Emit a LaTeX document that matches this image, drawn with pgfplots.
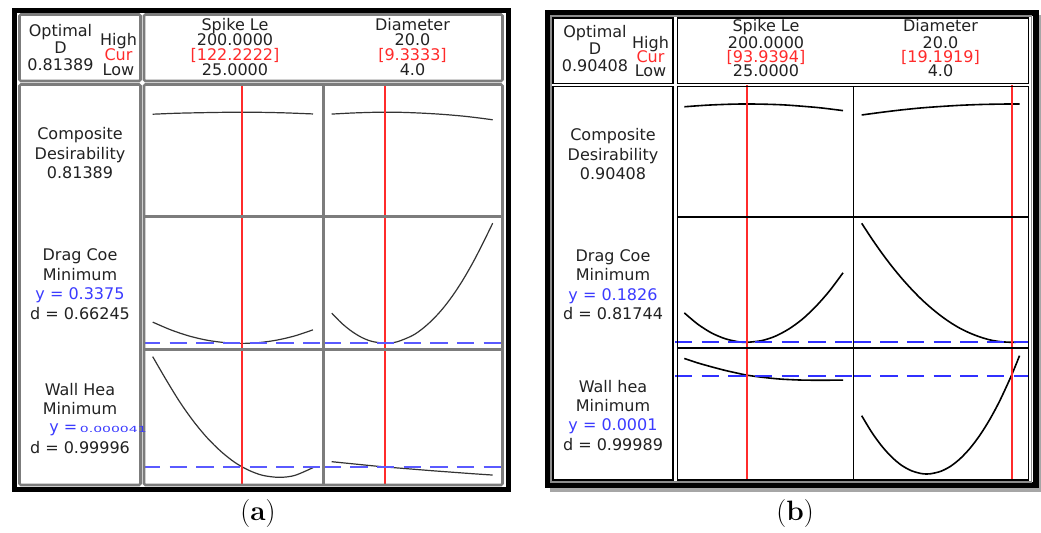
\documentclass[border=0pt]{standalone}
\usepackage{fontspec}
\setsansfont{DejaVu Sans}
\usepackage{graphicx}
\usepackage{pgfplots}
\pgfplotsset{compat=1.18}

\definecolor{curred}{HTML}{FF2B2B}
\definecolor{yblue}{HTML}{3B3BFF}
\definecolor{dashblueA}{HTML}{5A5AFF}
\definecolor{dashblueB}{HTML}{3030FF}
\definecolor{mgray}{HTML}{7C7C7C}
\definecolor{txt}{HTML}{222222}

\pgfplotsset{
  cell/.style={anchor=north west, scale only axis, hide axis, ymin=0, ymax=1, clip=true},
  respA/.style={no marks, smooth, color=black!80, line width=0.9pt},
  respB/.style={no marks, smooth, color=black, line width=1.2pt},
  curA/.style={no marks, sharp plot, solid, color=curred, line width=1.2pt},
  curB/.style={no marks, sharp plot, solid, color=curred, line width=1.4pt},
  barA/.style={ybar, bar width=1.6pt, bar shift=0pt, fill=curred, draw=none, no marks},
  barB/.style={ybar, bar width=1.5pt, bar shift=0pt, fill=curred, draw=none, no marks},
  yA/.style={no marks, color=dashblueA, line width=1.7pt, dash pattern=on 13pt off 7pt},
  yB/.style={no marks, color=dashblueB, line width=1.7pt, dash pattern=on 13pt off 7pt},
}
\tikzset{
  lab/.style={font=\sffamily\fontsize{12}{12}\selectfont, text=txt, anchor=base, inner sep=0pt},
  px/.style={x=0.75pt, y=-0.75pt},
}

\begin{document}
\begin{tikzpicture}
\begin{scope}[px]
\path[use as bounding box] (0,0) rectangle (1041,532);
\fill[white] (0,0) rectangle (1041,532);
\end{scope}

% ---------------- panel (a) ----------------
% Composite desirability
\begin{axis}[cell, at={(107.25pt,-63pt)}, width=135.375pt, height=99.375pt, xmin=14.41, xmax=211.46]
\addplot[respA] coordinates {(25,0.772) (50,0.779) (75,0.783) (100,0.786) (122.2,0.787) (145,0.786) (170,0.782) (200,0.774)};
\addplot[curA] coordinates {(122.2222,0) (122.2222,1)};
\end{axis}
\begin{axis}[cell, at={(242.625pt,-63pt)}, width=134.25pt, height=99.375pt, xmin=3.185, xmax=20.974]
\addplot[respA] coordinates {(4,0.773) (6,0.781) (8,0.786) (9.33,0.787) (11,0.786) (13,0.780) (15,0.771) (17,0.758) (18.5,0.745) (20,0.730)};
\addplot[barA] coordinates {(9.3333,1)};
\end{axis}
% Drag coefficient
\begin{axis}[cell, at={(107.25pt,-162.375pt)}, width=135.375pt, height=99.75pt, xmin=14.41, xmax=211.46]
\addplot[respA] coordinates {(25,0.206) (45,0.147) (65,0.101) (85,0.069) (105,0.051) (122.2,0.046) (140,0.051) (160,0.070) (180,0.102) (200,0.148)};
\addplot[curA] coordinates {(122.2222,0) (122.2222,1)};
\addplot[yA] coordinates {(14.41,0.047) (211.46,0.047)};
\end{axis}
\begin{axis}[cell, at={(242.625pt,-162.375pt)}, width=134.25pt, height=99.75pt, xmin=3.185, xmax=20.974]
\addplot[respA] coordinates {(4,0.274) (5,0.197) (6,0.136) (7,0.090) (8,0.061) (9.33,0.047) (10.5,0.058) (12,0.104) (13,0.155) (14,0.222) (15,0.304) (16,0.403) (17,0.518) (18,0.649) (19,0.795) (20,0.950)};
\addplot[barA] coordinates {(9.3333,1)};
\addplot[yA] coordinates {(3.185,0.047) (20.974,0.047)};
\end{axis}
% Wall heat flux
\begin{axis}[cell, at={(107.25pt,-262.125pt)}, width=135.375pt, height=101.25pt, xmin=14.41, xmax=211.46]
\addplot[respA] coordinates {(25,0.947) (40,0.772) (55,0.607) (70,0.464) (85,0.342) (100,0.242) (115,0.162) (130,0.105) (145,0.068) (163,0.053) (180,0.067) (200,0.125)};
\addplot[curA] coordinates {(122.2222,0) (122.2222,1)};
\addplot[yA] coordinates {(14.41,0.130) (211.46,0.130)};
\end{axis}
\begin{axis}[cell, at={(242.625pt,-262.125pt)}, width=134.25pt, height=101.25pt, xmin=3.185, xmax=20.974]
\addplot[respA] coordinates {(4,0.169) (6,0.154) (8,0.139) (9.33,0.130) (12,0.114) (14,0.102) (16,0.091) (18,0.080) (20,0.070)};
\addplot[barA] coordinates {(9.3333,1)};
\addplot[yA] coordinates {(3.185,0.130) (20.974,0.130)};
\end{axis}

% ---------------- panel (b) ----------------
\begin{axis}[cell, at={(506.25pt,-63.375pt)}, width=133.875pt, height=99.375pt, xmin=14.74, xmax=211.58]
\addplot[respB] coordinates {(25,0.832) (50,0.844) (75,0.851) (94,0.853) (115,0.851) (135,0.846) (155,0.836) (175,0.824) (200,0.803)};
\addplot[curB] coordinates {(93.9394,0) (93.9394,1)};
\end{axis}
\begin{axis}[cell, at={(640.125pt,-63.375pt)}, width=131.625pt, height=99.375pt, xmin=3.169, xmax=20.963]
\addplot[respB] coordinates {(4,0.770) (6,0.790) (8,0.808) (10,0.823) (12,0.834) (14,0.843) (16,0.849) (18,0.852) (19.19,0.853) (20,0.853)};
\addplot[barB] coordinates {(19.1919,1)};
\end{axis}
\begin{axis}[cell, at={(506.25pt,-162.75pt)}, width=133.875pt, height=98.25pt, xmin=14.74, xmax=211.58]
\addplot[respB] coordinates {(25,0.268) (40,0.181) (55,0.115) (70,0.071) (85,0.047) (93.94,0.0435) (110,0.056) (125,0.089) (140,0.144) (155,0.219) (170,0.317) (185,0.435) (200,0.574)};
\addplot[curB] coordinates {(93.9394,0) (93.9394,1)};
\addplot[yB] coordinates {(14.74,0.0435) (211.58,0.0435)};
\end{axis}
\begin{axis}[cell, at={(640.125pt,-162.75pt)}, width=131.625pt, height=98.25pt, xmin=3.169, xmax=20.963]
\addplot[respB] coordinates {(4,0.952) (5,0.837) (6,0.729) (7,0.629) (8,0.537) (9,0.453) (10,0.376) (11,0.308) (12,0.247) (13,0.194) (14,0.149) (15,0.113) (16,0.084) (17,0.062) (18,0.049) (19.19,0.0435) (20,0.046)};
\addplot[barB] coordinates {(19.1919,1)};
\addplot[yB] coordinates {(3.169,0.0435) (20.963,0.0435)};
\end{axis}
\begin{axis}[cell, at={(506.25pt,-261pt)}, width=133.875pt, height=99.375pt, xmin=14.74, xmax=211.58]
\addplot[respB] coordinates {(25,0.921) (40,0.887) (55,0.858) (70,0.831) (85,0.808) (93.94,0.795) (110,0.780) (130,0.766) (150,0.759) (165,0.757) (185,0.757) (200,0.758)};
\addplot[curB] coordinates {(93.9394,0) (93.9394,1)};
\addplot[yB] coordinates {(14.74,0.791) (211.58,0.791)};
\end{axis}
\begin{axis}[cell, at={(640.125pt,-261pt)}, width=131.625pt, height=99.375pt, xmin=3.169, xmax=20.963]
\addplot[respB] coordinates {(4,0.489) (5,0.366) (6,0.263) (7,0.180) (8,0.117) (9,0.075) (10,0.053) (10.6,0.049) (11,0.051) (12,0.069) (13,0.107) (14,0.166) (15,0.245) (16,0.344) (17,0.463) (18,0.602) (19.19,0.794) (20,0.942)};
\addplot[barB] coordinates {(19.1919,1)};
\addplot[yB] coordinates {(3.169,0.791) (20.963,0.791)};
\end{axis}

\begin{scope}[px]
% frames (a)
\draw[black, line width=3.75pt] (14.5,10.5) rectangle (508.5,489.5);
\begin{scope}[draw=mgray, line width=1.9pt, rounded corners=1pt]
\draw (19.5,14.5) rectangle (140.5,81);
\draw (144,14.5) rectangle (502.5,81);
\draw (19.5,84.5) rectangle (140.5,485);
\draw (144,84.5) rectangle (502.5,485);
\end{scope}
\draw[mgray, line width=1.6pt] (323.5,84.5) -- (323.5,485);
\draw[mgray, line width=1.6pt] (144,216.5) -- (502.5,216.5);
\draw[mgray, line width=1.6pt] (144,349.5) -- (502.5,349.5);

% header (a)
\node[lab] at (60.5,36) {Optimal};
\node[lab] at (60.5,53) {D};
\node[lab] at (60.5,70) {0.81389};
\node[lab] at (118.5,45.5) {High};
\node[lab, text=curred] at (118.5,60.5) {Cur};
\node[lab] at (118.5,75) {Low};
\node[lab] at (235,30.5) {Spike Le};
\node[lab] at (235,45.5) {200.0000};
\node[lab, text=curred] at (235,60.5) {[122.2222]};
\node[lab] at (235,75) {25.0000};
\node[lab] at (412.5,30.5) {Diameter};
\node[lab] at (412.5,45.5) {20.0};
\node[lab, text=curred] at (412.5,60.5) {[9.3333]};
\node[lab] at (412.5,75) {4.0};
% row labels (a)
\node[lab] at (80,139.3) {Composite};
\node[lab] at (80,159.3) {Desirability};
\node[lab] at (80,178.3) {0.81389};
\node[lab] at (80,260) {Drag Coe};
\node[lab] at (80,280) {Minimum};
\node[lab, text=yblue] at (80,299.5) {y = 0.3375};
\node[lab] at (80,319.5) {d = 0.66245};
\node[lab] at (80,395) {Wall Hea};
\node[lab] at (80,414) {Minimum};
\node[lab, text=yblue, anchor=base west] at (49,432) {y =\,\scalebox{1}[0.6]{\fontsize{10.5}{10.5}\selectfont 0.000041}};
\node[lab] at (80,453) {d = 0.99996};
\node[font=\rmfamily\fontsize{21}{21}\selectfont, anchor=base, inner sep=0pt] at (258,520) {(\textbf{a})};

% frames (b)
\fill[black!35] (550,488) rectangle (1041,491.5);
\fill[black!35] (1039,15) rectangle (1041,491.5);
\draw[black, line width=4.5pt] (547.5,12.5) rectangle (1036,485);
\draw[black!45, line width=0.8pt] (551,16) rectangle (1031.5,482);
\begin{scope}[draw=black, line width=1.3pt]
\draw (553,18) rectangle (673,83.5);
\draw (677.5,18) rectangle (1028.5,83.5);
\draw (553,86.5) rectangle (673,480);
\draw (677.5,86.5) rectangle (1028.5,480);
\draw (853.5,86.5) -- (853.5,480);
\draw (677.5,217) -- (1028.5,217);
\draw (677.5,348) -- (1028.5,348);
\end{scope}

% header (b)
\node[lab] at (595,37) {Optimal};
\node[lab] at (595,54.5) {D};
\node[lab] at (595,71.5) {0.90408};
\node[lab] at (650.5,48) {High};
\node[lab, text=curred] at (650.5,62.5) {Cur};
\node[lab] at (650.5,76.5) {Low};
\node[lab] at (766,31.5) {Spike Le};
\node[lab] at (766,48) {200.0000};
\node[lab, text=curred] at (766,62.5) {[93.9394]};
\node[lab] at (766,76.5) {25.0000};
\node[lab] at (940.5,31.5) {Diameter};
\node[lab] at (940.5,48) {20.0};
\node[lab, text=curred] at (940.5,62.5) {[19.1919]};
\node[lab] at (940.5,76.5) {4.0};
% row labels (b)
\node[lab] at (613,140) {Composite};
\node[lab] at (613,160) {Desirability};
\node[lab] at (613,179) {0.90408};
\node[lab] at (613,261) {Drag Coe};
\node[lab] at (613,280.5) {Minimum};
\node[lab, text=yblue] at (613,300) {y = 0.1826};
\node[lab] at (613,319.5) {d = 0.81744};
\node[lab] at (613,392) {Wall hea};
\node[lab] at (613,411.5) {Minimum};
\node[lab, text=yblue] at (613,430.5) {y = 0.0001};
\node[lab] at (613,450) {d = 0.99989};
\node[font=\rmfamily\fontsize{21}{21}\selectfont, anchor=base, inner sep=0pt] at (795,520) {(\textbf{b})};
\end{scope}
\end{tikzpicture}
\end{document}
